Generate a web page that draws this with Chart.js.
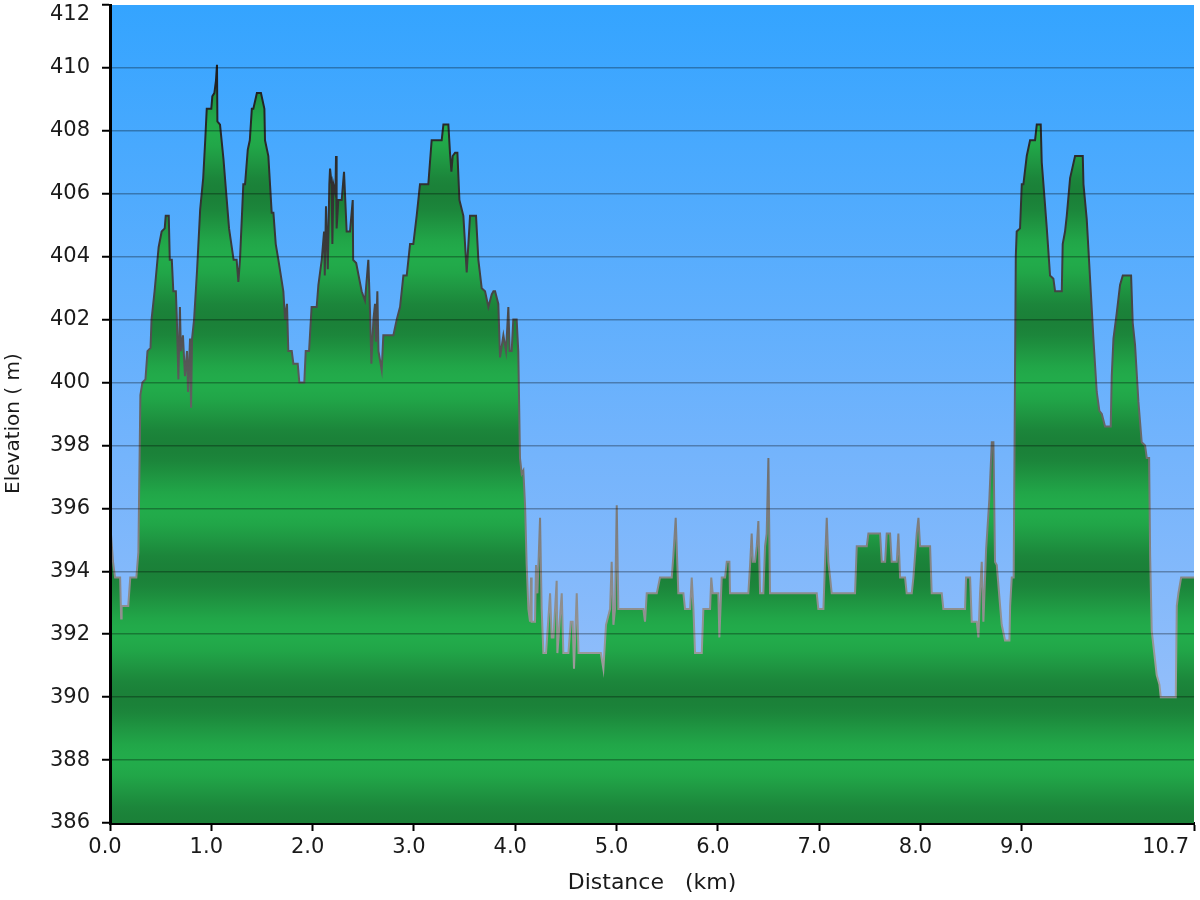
<!DOCTYPE html>
<html>
<head>
<meta charset="utf-8">
<title>Elevation profile</title>
<script src="https://cdn.jsdelivr.net/npm/chart.js@4.4.1/dist/chart.umd.min.js"></script>
<style>
  html, body { margin: 0; padding: 0; background: #ffffff; }
  #wrap { width: 1200px; height: 900px; position: relative; }
</style>
</head>
<body>
<div id="wrap"><canvas id="profileChart"></canvas></div>
<script>
// distance along the track (km) and elevation (m)
const distanceKm = [
    0.000, 0.030, 0.050, 0.100, 0.110, 0.115, 0.180, 0.200, 0.260, 0.280,
    0.300, 0.320, 0.350, 0.370, 0.400, 0.410, 0.440, 0.460, 0.480, 0.510,
    0.540, 0.550, 0.580, 0.590, 0.610, 0.625, 0.650, 0.660, 0.675, 0.690,
    0.700, 0.720, 0.740, 0.760, 0.770, 0.790, 0.800, 0.810, 0.830, 0.860,
    0.890, 0.920, 0.940, 0.955, 1.000, 1.010, 1.030, 1.046, 1.056, 1.060,
    1.086, 1.120, 1.150, 1.175, 1.220, 1.250, 1.267, 1.283, 1.316, 1.333,
    1.360, 1.380, 1.400, 1.415, 1.450, 1.490, 1.524, 1.530, 1.563, 1.596,
    1.613, 1.636, 1.662, 1.711, 1.728, 1.747, 1.760, 1.794, 1.810, 1.853,
    1.869, 1.918, 1.932, 1.965, 1.990, 2.040, 2.057, 2.090, 2.113, 2.120,
    2.132, 2.150, 2.165, 2.172, 2.188, 2.195, 2.205, 2.225, 2.231, 2.237,
    2.254, 2.287, 2.310, 2.336, 2.369, 2.396, 2.400, 2.430, 2.484, 2.517,
    2.550, 2.567, 2.580, 2.600, 2.616, 2.625, 2.639, 2.650, 2.682, 2.698,
    2.797, 2.830, 2.863, 2.896, 2.929, 2.962, 2.994, 3.027, 3.060, 3.142,
    3.175, 3.274, 3.291, 3.340, 3.356, 3.370, 3.383, 3.406, 3.429, 3.449,
    3.488, 3.521, 3.554, 3.613, 3.636, 3.669, 3.702, 3.735, 3.768, 3.785,
    3.801, 3.833, 3.850, 3.883, 3.909, 3.932, 3.945, 3.965, 3.981, 4.014,
    4.030, 4.047, 4.064, 4.080, 4.097, 4.113, 4.130, 4.146, 4.156, 4.162,
    4.195, 4.205, 4.219, 4.245, 4.261, 4.278, 4.304, 4.327, 4.344, 4.360,
    4.377, 4.409, 4.416, 4.459, 4.475, 4.492, 4.525, 4.548, 4.567, 4.580,
    4.607, 4.625, 4.845, 4.870, 4.896, 4.936, 4.952, 4.969, 4.985, 5.002,
    5.018, 5.265, 5.281, 5.298, 5.397, 5.429, 5.545, 5.561, 5.584, 5.610,
    5.660, 5.676, 5.726, 5.742, 5.759, 5.775, 5.841, 5.857, 5.923, 5.935,
    5.949, 6.005, 6.015, 6.038, 6.071, 6.088, 6.114, 6.120, 6.301, 6.318,
    6.334, 6.345, 6.367, 6.384, 6.400, 6.417, 6.449, 6.466, 6.482, 6.499,
    6.515, 6.976, 6.992, 7.042, 7.058, 7.075, 7.091, 7.108, 7.124, 7.354,
    7.371, 7.470, 7.486, 7.601, 7.618, 7.651, 7.667, 7.700, 7.716, 7.766,
    7.782, 7.799, 7.848, 7.864, 7.914, 7.930, 7.963, 7.980, 7.996, 8.095,
    8.111, 8.210, 8.226, 8.440, 8.450, 8.490, 8.506, 8.556, 8.572, 8.588,
    8.605, 8.621, 8.648, 8.680, 8.704, 8.720, 8.736, 8.753, 8.786, 8.802,
    8.835, 8.878, 8.885, 8.901, 8.920, 8.941, 8.950, 8.983, 9.000, 9.016,
    9.049, 9.082, 9.131, 9.148, 9.187, 9.197, 9.214, 9.247, 9.279, 9.312,
    9.329, 9.395, 9.404, 9.427, 9.444, 9.477, 9.526, 9.602, 9.609, 9.641,
    9.674, 9.707, 9.740, 9.766, 9.790, 9.822, 9.878, 9.888, 9.905, 9.937,
    9.970, 9.997, 10.079, 10.095, 10.118, 10.151, 10.184, 10.217, 10.234, 10.257,
    10.267, 10.283, 10.332, 10.359, 10.372, 10.520, 10.530, 10.546, 10.573, 10.700
];

const elevationM = [
    395.6, 394.3, 393.8, 393.8, 392.5, 392.9, 392.9, 393.8, 393.8, 394.6,
    399.6, 400.0, 400.1, 401.0, 401.1, 402.0, 402.9, 403.6, 404.3, 404.8,
    404.9, 405.3, 405.3, 403.9, 403.9, 402.9, 402.9, 402.0, 400.1, 402.4,
    401.0, 401.5, 400.2, 401.0, 399.7, 401.4, 399.2, 401.4, 402.0, 403.6,
    405.5, 406.5, 407.7, 408.7, 408.7, 409.1, 409.2, 409.6, 410.1, 408.3,
    408.2, 407.1, 405.9, 404.9, 403.9, 403.9, 403.2, 403.9, 406.3, 406.3,
    407.4, 407.7, 408.7, 408.7, 409.2, 409.2, 408.7, 407.7, 407.2, 405.4,
    405.4, 404.4, 403.9, 402.9, 402.0, 402.5, 401.0, 401.0, 400.6, 400.6,
    400.0, 400.0, 401.0, 401.0, 402.4, 402.4, 403.1, 403.9, 404.8, 403.4,
    405.6, 403.6, 406.3, 406.8, 406.3, 404.4, 406.3, 406.0, 407.2, 404.9,
    405.8, 405.8, 406.7, 404.8, 404.8, 405.8, 403.9, 403.8, 402.9, 402.6,
    403.9, 402.2, 400.6, 402.0, 402.5, 401.3, 402.9, 401.0, 400.4, 401.5,
    401.5, 402.0, 402.4, 403.4, 403.4, 404.4, 404.4, 405.3, 406.3, 406.3,
    407.7, 407.7, 408.2, 408.2, 407.3, 406.7, 407.2, 407.3, 407.3, 405.8,
    405.3, 403.5, 405.3, 405.3, 403.9, 403.0, 402.9, 402.4, 402.8, 402.9,
    402.9, 402.5, 400.8, 401.5, 401.0, 402.4, 401.0, 401.0, 402.0, 402.0,
    401.0, 397.6, 397.1, 397.2, 396.1, 394.2, 392.8, 392.4, 393.8, 392.4,
    392.4, 394.2, 393.3, 395.7, 392.8, 391.4, 391.4, 392.5, 393.3, 391.9,
    391.9, 393.7, 391.4, 393.3, 391.4, 391.4, 391.4, 392.4, 392.4, 390.9,
    393.3, 391.4, 391.4, 390.9, 392.3, 392.8, 394.3, 392.3, 392.8, 396.1,
    392.8, 392.8, 392.4, 393.3, 393.3, 393.8, 393.8, 394.5, 395.7, 393.3,
    393.3, 392.8, 392.8, 393.8, 392.8, 391.4, 391.4, 392.8, 392.8, 393.8,
    393.3, 393.3, 391.9, 393.8, 393.8, 394.3, 394.3, 393.3, 393.3, 394.2,
    395.2, 394.3, 394.3, 394.8, 395.6, 393.3, 393.3, 394.8, 395.2, 397.6,
    393.3, 393.3, 392.8, 392.8, 394.3, 395.7, 394.3, 393.8, 393.3, 393.3,
    394.8, 394.8, 395.2, 395.2, 394.3, 394.3, 395.2, 395.2, 394.3, 394.3,
    395.2, 393.8, 393.8, 393.3, 393.3, 393.8, 395.2, 395.7, 394.8, 394.8,
    393.3, 393.3, 392.8, 392.8, 393.8, 393.8, 392.4, 392.4, 391.9, 393.3,
    394.3, 392.4, 394.7, 396.3, 398.1, 398.1, 394.3, 394.2, 392.9, 392.3,
    391.8, 391.8, 392.9, 393.8, 393.8, 404.0, 404.8, 404.9, 406.3, 406.3,
    407.2, 407.7, 407.7, 408.2, 408.2, 407.0, 406.3, 404.9, 403.4, 403.3,
    402.9, 402.9, 404.4, 404.8, 405.3, 406.5, 407.2, 407.2, 406.3, 405.2,
    403.3, 401.4, 399.7, 399.1, 399.0, 398.6, 398.6, 400.2, 401.4, 402.2,
    403.1, 403.4, 403.4, 401.9, 401.2, 399.4, 398.1, 398.0, 397.6, 397.6,
    394.5, 392.1, 390.7, 390.4, 390.0, 390.0, 392.9, 393.3, 393.8, 393.8
];

// axes
const xTickValues = [0, 1, 2, 3, 4, 5, 6, 7, 8, 9, 10.7];
const yMin = 386;
const yMax = 412;
const yStep = 2;

const xTitle = 'Distance   (km)';
const yTitle = 'Elevation ( m)';

const FONT = "'DejaVu Sans', Verdana, sans-serif";

// green fill with soft horizontal bands every 4 m
function mix(a, b, t) {
    return 'rgb(' + a.map((c, i) => Math.round(c + (b[i] - c) * t)).join(',') + ')';
}

function fillGradient(context) {
    const chart = context.chart;
    if (!chart.chartArea) return '#22a84a';
    const y = chart.scales.y;
    const top = y.getPixelForValue(yMax);
    const bottom = y.getPixelForValue(yMin);
    const g = chart.ctx.createLinearGradient(0, top, 0, bottom);
    const dark = [27, 128, 56];
    const light = [34, 172, 75];
    for (let v = yMax; v >= yMin - 0.001; v -= 0.25) {
        const phase = (((v - 386) % 4) + 4) % 4 / 4;
        const t = (1 - Math.cos(2 * Math.PI * phase)) / 2;
        g.addColorStop((yMax - v) / (yMax - yMin), mix(dark, light, t));
    }
    return g;
}

function strokeGradient(context) {
    const chart = context.chart;
    if (!chart.chartArea) return '#666';
    const y = chart.scales.y;
    const g = chart.ctx.createLinearGradient(0, y.getPixelForValue(yMax), 0, y.getPixelForValue(yMin));
    g.addColorStop(0, '#151515');
    g.addColorStop(0.3, '#3a3a3a');
    g.addColorStop(0.55, '#6e6e6e');
    g.addColorStop(0.8, '#9a9a9a');
    g.addColorStop(1, '#a8a8a8');
    return g;
}

// blue sky behind the plot
const plotBackground = {
    id: 'plotBackground',
    beforeDraw(chart) {
        const {ctx, chartArea: a} = chart;
        const g = ctx.createLinearGradient(0, a.top, 0, a.bottom);
        g.addColorStop(0, '#34a4ff');
        g.addColorStop(0.55, '#74b4fc');
        g.addColorStop(1, '#a2c3f9');
        ctx.save();
        ctx.fillStyle = g;
        ctx.fillRect(a.left, a.top, a.right - a.left, a.bottom - a.top);
        ctx.restore();
    }
};

const points = distanceKm.map((d, i) => ({x: d, y: elevationM[i]}));

const ctx = document.getElementById('profileChart').getContext('2d');
const chart = new Chart(ctx, {
    type: 'line',
    data: {
        datasets: [{
            label: 'Elevation',
            data: points,
            fill: 'start',
            backgroundColor: fillGradient,
            borderColor: strokeGradient,
            borderWidth: 2,
            pointRadius: 0,
            tension: 0
        }]
    },
    options: {
        responsive: true,
        maintainAspectRatio: false,
        animation: false,
        layout: {
            padding: {top: 5, right: 6, bottom: 0, left: 0}
        },
        plugins: {
            legend: {display: false},
            tooltip: {enabled: false}
        },
        scales: {
            x: {
                type: 'linear',
                min: 0,
                max: 10.7,
                afterBuildTicks: (scale) => {
                    scale.ticks = xTickValues.map(v => ({value: v}));
                },
                afterFit: (scale) => {
                    scale.height = 77;
                    scale.paddingLeft = 0;
                    scale.paddingRight = 0;
                },
                grid: {
                    drawOnChartArea: false,
                    tickLength: 8,
                    tickColor: '#000',
                    tickWidth: 2
                },
                border: {color: '#000', width: 3},
                ticks: {
                    autoSkip: false,
                    maxRotation: 0,
                    padding: 4,
                    labelOffset: -5,
                    color: '#1a1a1a',
                    font: {family: FONT, size: 21},
                    callback: (value) => value === 10.7 ? '10.7' + '       ' : value.toFixed(1)
                },
                title: {
                    display: true,
                    text: xTitle,
                    color: '#1a1a1a',
                    font: {family: FONT, size: 22},
                    padding: {top: 0, bottom: 4}
                }
            },
            y: {
                min: yMin,
                max: yMax,
                afterFit: (scale) => {
                    scale.width = 110;
                    scale.paddingTop = 0;
                    scale.paddingBottom = 0;
                },
                grid: {
                    z: 1,
                    color: (c) => (c.tick && (c.tick.value === yMax || c.tick.value === yMin)) ? 'rgba(0,0,0,0)' : 'rgba(0,0,0,0.3)',
                    lineWidth: 1.5,
                    tickLength: 8,
                    tickColor: '#000',
                    tickWidth: 2
                },
                border: {color: '#000', width: 3, z: 2},
                ticks: {
                    stepSize: yStep,
                    padding: 12,
                    color: '#1a1a1a',
                    font: {family: FONT, size: 21, lineHeight: 0.95},
                    callback: (value) => value === yMax ? ['', String(value)] : String(value)
                },
                title: {
                    display: true,
                    text: yTitle + '   ',
                    color: '#1a1a1a',
                    font: {family: FONT, size: 20},
                    padding: {top: 2, bottom: 0}
                }
            }
        }
    },
    plugins: [plotBackground]
});
</script>
</body>
</html>
